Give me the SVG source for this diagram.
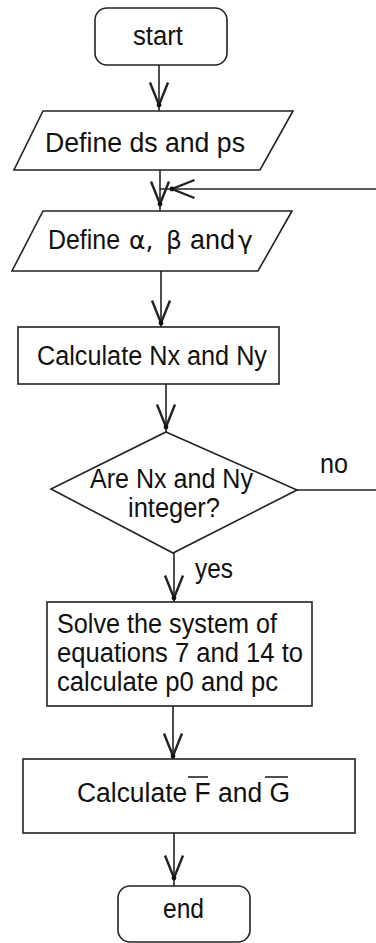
<svg xmlns="http://www.w3.org/2000/svg" width="376" height="943" viewBox="0 0 376 943">
<style>
.s{fill:#fff;stroke:#222;stroke-width:1.6}
.t{font-family:"Liberation Sans",Arial,sans-serif;font-size:27px;fill:#111}
.c{text-anchor:middle}
.g{font-family:"DejaVu Sans","Liberation Sans",sans-serif;font-size:25px;fill:#111}
.e{fill:none;stroke:#222;stroke-width:1.6;marker-mid:url(#ah)}
.l{fill:none;stroke:#222;stroke-width:1.6}
</style>
<defs>
<marker id="ah" markerUnits="userSpaceOnUse" markerWidth="30" markerHeight="30" refX="0" refY="0" viewBox="-18 -9 20 18" orient="auto" overflow="visible">
<path d="M-15,-6 L0,0 L-15,6" fill="none" stroke="#222" stroke-width="1.6"/>
<circle cx="0" cy="0" r="1.6" fill="#111"/>
</marker>
</defs>
<g id="connectors">
<path class="e" d="M159,65 L159,105 L159,111"/>
<path class="e" d="M160,170 L160,204 L160,211"/>
<path class="e" d="M161,271 L161,323 L161,327"/>
<path class="e" d="M166,384 L166,427 L166,432"/>
<path class="e" d="M174,553 L174,598 L174,602"/>
<path class="e" d="M173,706 L173,756 L173,759"/>
<path class="e" d="M174,833 L174,878 L174,886"/>
<path class="l" d="M297,490 L376,490"/>
<path class="e" d="M376,189 L172,189 L160,189"/>
<text class="t" x="320" y="473" textLength="28" lengthAdjust="spacingAndGlyphs">no</text>
<text class="t" x="195" y="578" textLength="38" lengthAdjust="spacingAndGlyphs">yes</text>
</g>
<g id="start">
<rect class="s" x="95" y="8" width="132" height="57" rx="12"/>
<text class="t" x="133" y="45" textLength="50" lengthAdjust="spacingAndGlyphs">start</text>
</g>
<g id="define-ds-ps">
<polygon class="s" points="43,111 293,111 260,170 14,170"/>
<text class="t" x="45" y="152" textLength="200" lengthAdjust="spacingAndGlyphs">Define ds and ps</text>
</g>
<g id="define-abg">
<polygon class="s" points="43,211 292,211 258,271 12,271"/>
<text class="t" x="48" y="249" textLength="72" lengthAdjust="spacingAndGlyphs">Define</text>
<text class="g" x="129" y="249">α,</text>
<text class="g" x="166" y="249">β</text>
<text class="t" x="190" y="249" textLength="45" lengthAdjust="spacingAndGlyphs">and</text>
<text class="g" x="238" y="249">γ</text>
</g>
<g id="calc-nxny">
<rect class="s" x="18" y="327" width="261" height="57"/>
<text class="t" x="37" y="365" textLength="230" lengthAdjust="spacingAndGlyphs">Calculate Nx and Ny</text>
</g>
<g id="decision">
<polygon class="s" points="166,432 297,490 173,553 51,489"/>
<text class="t" x="90" y="488" textLength="163" lengthAdjust="spacingAndGlyphs">Are Nx and Ny</text>
<text class="t" x="128" y="517" textLength="92" lengthAdjust="spacingAndGlyphs">integer?</text>
</g>
<g id="solve">
<rect class="s" x="47" y="602" width="265" height="104"/>
<text class="t" x="57" y="633" textLength="220" lengthAdjust="spacingAndGlyphs">Solve the system of</text>
<text class="t" x="57" y="662" textLength="246" lengthAdjust="spacingAndGlyphs">equations 7 and 14 to</text>
<text class="t" x="57" y="691" textLength="221" lengthAdjust="spacingAndGlyphs">calculate p0 and pc</text>
</g>
<g id="calc-fg">
<rect class="s" x="23" y="759" width="332" height="74"/>
<text class="t" x="77" y="802" textLength="213" lengthAdjust="spacingAndGlyphs">Calculate F and G</text>
<line class="l" x1="188" y1="777" x2="208" y2="777"/>
<line class="l" x1="265" y1="777" x2="288" y2="777"/>
</g>
<g id="end">
<rect class="s" x="118" y="886" width="132" height="56" rx="12"/>
<text class="t" x="163" y="918" textLength="41" lengthAdjust="spacingAndGlyphs">end</text>
</g>
</svg>
